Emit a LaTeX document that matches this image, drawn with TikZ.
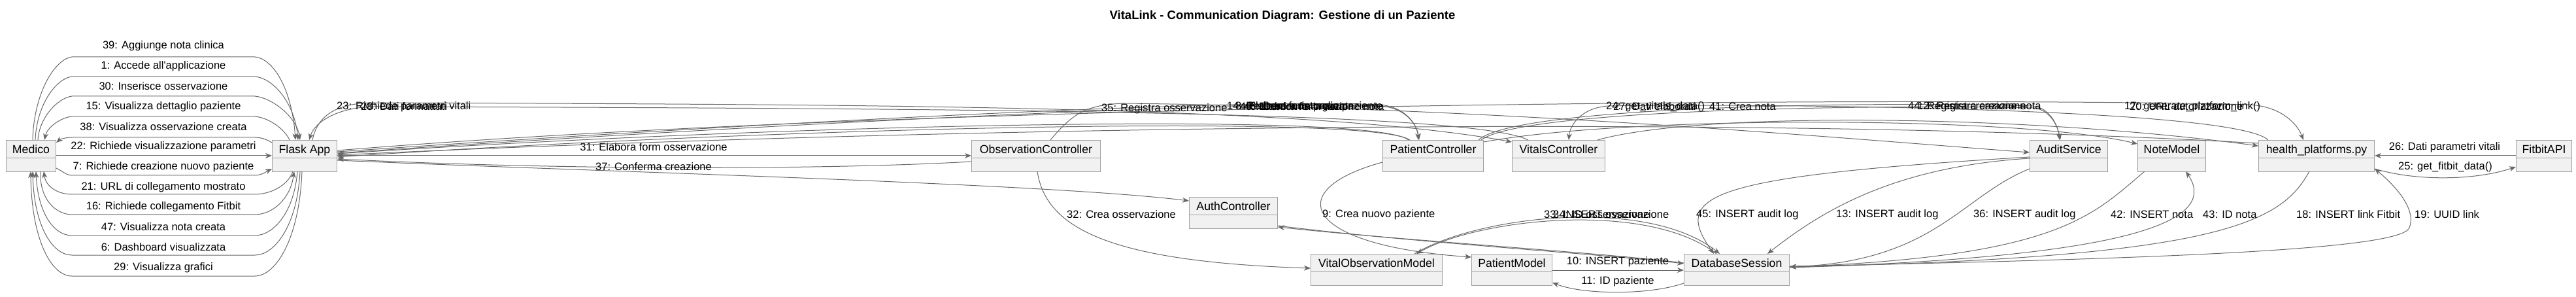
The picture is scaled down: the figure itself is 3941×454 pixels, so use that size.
\documentclass[tikz,border=0pt]{standalone}
\usepackage{fontspec}
\setmainfont{Liberation Sans}
\usetikzlibrary{arrows.meta,calc}

\definecolor{boxfill}{HTML}{F1F1F1}
\definecolor{boxline}{HTML}{A0A0A0}
\definecolor{wire}{HTML}{686868}

\tikzset{
  cls/.style={draw=boxline, fill=boxfill, line width=1pt, anchor=north west,
    minimum height=48pt, inner xsep=0pt, inner ysep=4pt,
    text height=16pt, text depth=24pt, font=\fontsize{17.7}{20}\selectfont,
    path picture={\draw[boxline, line width=1pt]
      ([yshift=-27pt]path picture bounding box.north west) --
      ([yshift=-27pt]path picture bounding box.north east);}},
  msg/.style={draw=wire, line width=1pt, -{Stealth[length=10pt,width=8pt,inset=3pt]}},
  lbl/.style={font=\fontsize{16.5}{19}\selectfont, inner sep=0pt},
}

\begin{document}
\begin{tikzpicture}[x=1pt,y=-1pt]
\useasboundingbox (0,0) rectangle (3941,454);

% Title
\node[font=\bfseries\fontsize{18.5}{22}\selectfont] (title) at (1962,25) {VitaLink - Communication Diagram: Gestione di un Paziente};

% Participants
\node[cls, minimum width=76pt] (medico) at (9,214) {Medico};
\node[cls, minimum width=99pt] (flask) at (416,214) {Flask App};
\node[cls, minimum width=197pt] (obsctrl) at (1486,214) {ObservationController};
\node[cls, minimum width=135pt] (authctrl) at (1819,301) {AuthController};
\node[cls, minimum width=154pt] (patctrl) at (2115,214) {PatientController};
\node[cls, minimum width=142pt] (vitctrl) at (2313,214) {VitalsController};
\node[cls, minimum width=201pt] (vitobs) at (2005,388) {VitalObservationModel};
\node[cls, minimum width=123pt] (patmodel) at (2251,388) {PatientModel};
\node[cls, minimum width=161pt] (dbsess) at (2576,388) {DatabaseSession};
\node[cls, minimum width=119pt] (audit) at (3105,214) {AuditService};
\node[cls, minimum width=104pt] (notemodel) at (3270,214) {NoteModel};
\node[cls, minimum width=177pt] (healthpf) at (3455,214) {health\_platforms.py};
\node[cls, minimum width=85pt] (fitbit) at (3849,214) {FitbitAPI};

% Medico <-> Flask App (upper arcs)
\draw[msg] ($(medico.north west)+(41,0)$) .. controls (52,140) and (85,90) .. (110,87) -- (390,87) .. controls (420,90) and (447,140) .. ($(flask.north west)+(36,0)$);
\draw[msg] ($(medico.north west)+(45,0)$) .. controls (56,160) and (86,120) .. (110,117) -- (390,117) .. controls (420,120) and (451,160) .. ($(flask.north west)+(40,0)$);
\draw[msg] ($(medico.north west)+(49,0)$) .. controls (60,180) and (88,150) .. (110,147) -- (390,147) .. controls (418,150) and (454,180) .. ($(flask.north west)+(43,0)$);
\draw[msg] ($(flask.north west)+(27,0)$) .. controls (436,198) and (412,180) .. (390,178) -- (110,178) .. controls (92,180) and (72,195) .. ($(medico.north west)+(59,0)$);
\draw[msg] ($(flask.north west)+(0,4)$) .. controls (406,212) and (398,210) .. (390,210) -- (110,210) .. controls (100,210) and (92,213) .. ($(medico.north east)+(0,4)$);
\draw[msg] ($(medico.north east)+(0,24)$) -- ($(flask.north west)+(0,24)$);
\draw[msg] ($(medico.north east)+(0,43)$) .. controls (96,262) and (102,268) .. (110,268) -- (390,268) .. controls (400,268) and (408,262) .. ($(flask.north west)+(0,44)$);
% Medico <-> Flask App (lower arcs)
\draw[msg] ($(flask.north west)+(32,48)$) .. controls (440,285) and (412,297) .. (390,297) -- (110,297) .. controls (88,297) and (70,285) .. ($(medico.north west)+(58,48)$);
\draw[msg] ($(medico.north west)+(53,48)$) .. controls (60,305) and (86,328) .. (110,328) -- (390,328) .. controls (416,328) and (444,305) .. ($(flask.north west)+(34,48)$);
\draw[msg] ($(flask.north west)+(39,48)$) .. controls (450,325) and (418,360) .. (390,360) -- (110,360) .. controls (82,360) and (58,325) .. ($(medico.north west)+(46,48)$);
\draw[msg] ($(flask.north west)+(43,48)$) .. controls (455,345) and (420,390) .. (390,390) -- (110,390) .. controls (80,390) and (52,345) .. ($(medico.north west)+(41,48)$);
\draw[msg] ($(flask.north west)+(46,48)$) .. controls (458,365) and (422,422) .. (390,422) -- (110,422) .. controls (78,422) and (48,365) .. ($(medico.north west)+(38,48)$);

\node[lbl] (l39) at (250,70) {39: Aggiunge nota clinica};
\node[lbl] (l1) at (250,101) {1: Accede all\textquotesingle applicazione};
\node[lbl] (l30) at (250,132) {30: Inserisce osservazione};
\node[lbl] (l15) at (250,163) {15: Visualizza dettaglio paziente};
\node[lbl] (l38) at (250,194) {38: Visualizza osservazione creata};
\node[lbl] (l22) at (250,224) {22: Richiede visualizzazione parametri};
\node[lbl] (l7) at (250,255) {7: Richiede creazione nuovo paziente};
\node[lbl] (l21) at (250,286) {21: URL di collegamento mostrato};
\node[lbl] (l16) at (250,316) {16: Richiede collegamento Fitbit};
\node[lbl] (l47) at (250,347) {47: Visualizza nota creata};
\node[lbl] (l6) at (250,378) {6: Dashboard visualizzata};
\node[lbl] (l29) at (250,409) {29: Visualizza grafici};

% Flask App <-> controllers
\draw[msg] ($(flask.north east)+(0,24)$) -- ($(obsctrl.north west)+(0,24)$);
\draw[msg] ($(obsctrl.north west)+(0,33)$) .. controls (1300,258) and (900,262) .. ($(flask.north east)+(0,29)$);
\draw[msg] ($(flask.north east)+(0,31)$) .. controls (900,262) and (1600,280) .. ($(authctrl.north west)+(0,6)$);
\draw[msg] ($(authctrl.north east)+(0,44)$) .. controls (2150,370) and (2450,388) .. ($(dbsess.north west)+(0,15)$);
\draw[msg] ($(dbsess.north west)+(0,14)$) .. controls (2450,386) and (2150,368) .. ($(authctrl.north east)+(0,46)$);
\node[lbl] (l31) at (1000,225) {31: Elabora form osservazione};
\node[lbl] (l37) at (1000,255) {37: Conferma creazione};

% upper corridor
\draw[msg] ($(flask.north west)+(62,0)$) .. controls (485,180) and (510,158) .. (570,157) .. controls (1300,160) and (2000,160) .. ($(vitctrl.north west)+(0,3)$);
\draw[msg] ($(vitctrl.north west)+(25,0)$) .. controls (2250,170) and (1500,166) .. (580,163) .. controls (520,162) and (482,185) .. ($(flask.north west)+(57,0)$);
\draw[msg] ($(flask.north east)+(0,18)$) .. controls (1200,185) and (1900,150) .. (2110,160) .. controls (2150,163) and (2168,190) .. ($(patctrl.north west)+(55,0)$);
\draw[msg] ($(flask.north east)+(0,20)$) .. controls (1200,188) and (1900,154) .. (2112,162) .. controls (2152,165) and (2168,192) .. ($(patctrl.north west)+(56,0)$);
\draw[msg] ($(patctrl.north west)+(40,0)$) .. controls (2100,170) and (1200,190) .. ($(flask.north east)+(0,21)$);
\draw[msg] ($(patctrl.north west)+(42,0)$) .. controls (2100,174) and (1200,194) .. ($(flask.north east)+(0,26)$);
\draw[msg] ($(obsctrl.north west)+(121,0)$) .. controls (1640,175) and (1660,160) .. (1720,158) .. controls (2300,165) and (2800,210) .. ($(audit.north west)+(0,19)$);
\draw[msg] ($(patctrl.north east)+(0,3)$) .. controls (2500,175) and (3100,178) .. ($(notemodel.north west)+(0,6)$);
\draw[msg] ($(patctrl.north east)+(-8,0)$) .. controls (2320,160) and (2900,155) .. (3110,162) .. controls (3135,165) and (3148,190) .. ($(audit.north west)+(46,0)$);
\draw[msg] ($(patctrl.north east)+(-4,0)$) .. controls (2330,165) and (2900,160) .. (3112,165) .. controls (3136,168) and (3148,192) .. ($(audit.north west)+(47,0)$);
\draw[msg] ($(vitctrl.north east)+(-12,0)$) .. controls (2600,170) and (3100,175) .. ($(healthpf.north west)+(0,9)$);
\draw[msg] ($(healthpf.north west)+(15,0)$) .. controls (3420,165) and (2700,158) .. (2460,162) .. controls (2420,165) and (2402,190) .. ($(vitctrl.north west)+(87,0)$);
\draw[msg] ($(flask.north east)+(0,16)$) .. controls (1500,150) and (3100,150) .. (3440,160) .. controls (3490,162) and (3515,190) .. ($(healthpf.north west)+(69,0)$);
\draw[msg] ($(healthpf.north west)+(0,5)$) .. controls (2600,170) and (1300,200) .. ($(flask.north east)+(0,23)$);

\node[lbl, anchor=west] (l23) at (515,163) {23: Richiede parametri vitali};
\node[lbl, anchor=west] (l28) at (552,163) {28: Dati formattati};
\node[lbl, anchor=west] (l35) at (1685,166) {35: Registra osservazione};
\node[lbl, anchor=west] (l14) at (1877,163) {14: Redirect a dettaglio paziente};
\node[lbl, anchor=west] (l8) at (1890,163) {8: Elabora form paziente};
\node[lbl, anchor=west] (l40) at (1897,163) {40: Elabora form nota};
\node[lbl, anchor=west] (l46) at (1903,163) {46: Conferma creazione nota};
\node[lbl, anchor=west] (l24) at (2457,163) {24: get\_vitals\_data()};
\node[lbl, anchor=west] (l27) at (2468,163) {27: Dati elaborati};
\node[lbl, anchor=west] (l41) at (2615,163) {41: Crea nota};
\node[lbl, anchor=west] (l44) at (2919,163) {44: Registra creazione nota};
\node[lbl, anchor=west] (l12) at (2933,163) {12: Registra creazione};
\node[lbl, anchor=west] (l17) at (3250,163) {17: generate\_platform\_link()};
\node[lbl, anchor=west] (l20) at (3258,163) {20: URL autorizzazione};

% controllers -> models
\draw[msg] ($(obsctrl.north west)+(101,48)$) .. controls (1600,350) and (1700,400) .. ($(vitobs.north west)+(0,22)$);
\draw[msg] ($(patctrl.north west)+(0,34)$) .. controls (1960,290) and (1990,375) .. ($(patmodel.north west)+(0,5)$);
\node[lbl, anchor=west] (l32) at (1632,328) {32: Crea osservazione};
\node[lbl, anchor=west] (l9) at (2023,328) {9: Crea nuovo paziente};

% models <-> DatabaseSession
\draw[msg] ($(patmodel.north east)+(0,25)$) -- ($(dbsess.north west)+(0,25)$);
\draw[msg] ($(dbsess.north west)+(0,45)$) .. controls (2520,452) and (2420,450) .. ($(patmodel.north east)+(0,44)$);
\draw[msg] ($(vitobs.north west)+(159,0)$) .. controls (2260,330) and (2520,300) .. ($(dbsess.north west)+(55,0)$);
\draw[msg] ($(dbsess.north west)+(50,0)$) .. controls (2520,306) and (2262,334) .. ($(vitobs.north west)+(162,0)$);
\node[lbl] (l10) at (2475,400) {10: INSERT paziente};
\node[lbl] (l11) at (2475,430) {11: ID paziente};
\node[lbl, anchor=west] (l33) at (2362,328) {33: INSERT osservazione};
\node[lbl, anchor=west] (l34) at (2376,328) {34: ID osservazione};

% AuditService, NoteModel, health_platforms.py -> DatabaseSession
\draw[msg] ($(audit.north west)+(0,26)$) .. controls (2600,270) and (2560,300) .. ($(dbsess.north west)+(46,0)$);
\draw[msg] ($(audit.north west)+(0,28)$) .. controls (2900,255) and (2790,320) .. ($(dbsess.north west)+(128,0)$);
\draw[msg] ($(audit.north west)+(0,44)$) .. controls (3000,300) and (2960,400) .. ($(dbsess.north east)+(0,20)$);
\draw[msg] ($(notemodel.north west)+(11,48)$) .. controls (3200,330) and (3150,392) .. ($(dbsess.north east)+(0,20)$);
\draw[msg] ($(dbsess.north east)+(0,21)$) .. controls (3300,392) and (3390,330) .. ($(notemodel.north west)+(74,48)$);
\draw[msg] ($(healthpf.north west)+(78,48)$) .. controls (3490,340) and (3400,394) .. ($(dbsess.north east)+(0,20)$);
\draw[msg] ($(dbsess.north east)+(0,19)$) .. controls (3300,396) and (3660,382) .. (3685,350) .. controls (3700,320) and (3660,280) .. ($(healthpf.north east)+(0,44)$);
\node[lbl, anchor=west] (l45) at (2595,328) {45: INSERT audit log};
\node[lbl, anchor=west] (l13) at (2809,328) {13: INSERT audit log};
\node[lbl, anchor=west] (l36) at (3019,328) {36: INSERT audit log};
\node[lbl, anchor=west] (l42) at (3229,328) {42: INSERT nota};
\node[lbl, anchor=west] (l43) at (3370,328) {43: ID nota};
\node[lbl, anchor=west] (l18) at (3513,328) {18: INSERT link Fitbit};
\node[lbl, anchor=west] (l19) at (3694,328) {19: UUID link};

% health_platforms.py <-> FitbitAPI
\draw[msg] ($(fitbit.north west)+(0,24)$) -- ($(healthpf.north east)+(0,24)$);
\draw[msg] ($(healthpf.north east)+(0,44)$) .. controls (3700,278) and (3790,275) .. ($(fitbit.north west)+(0,41)$);
\node[lbl] (l26) at (3740,225) {26: Dati parametri vitali};
\node[lbl] (l25) at (3741,255) {25: get\_fitbit\_data()};
\end{tikzpicture}
\end{document}
